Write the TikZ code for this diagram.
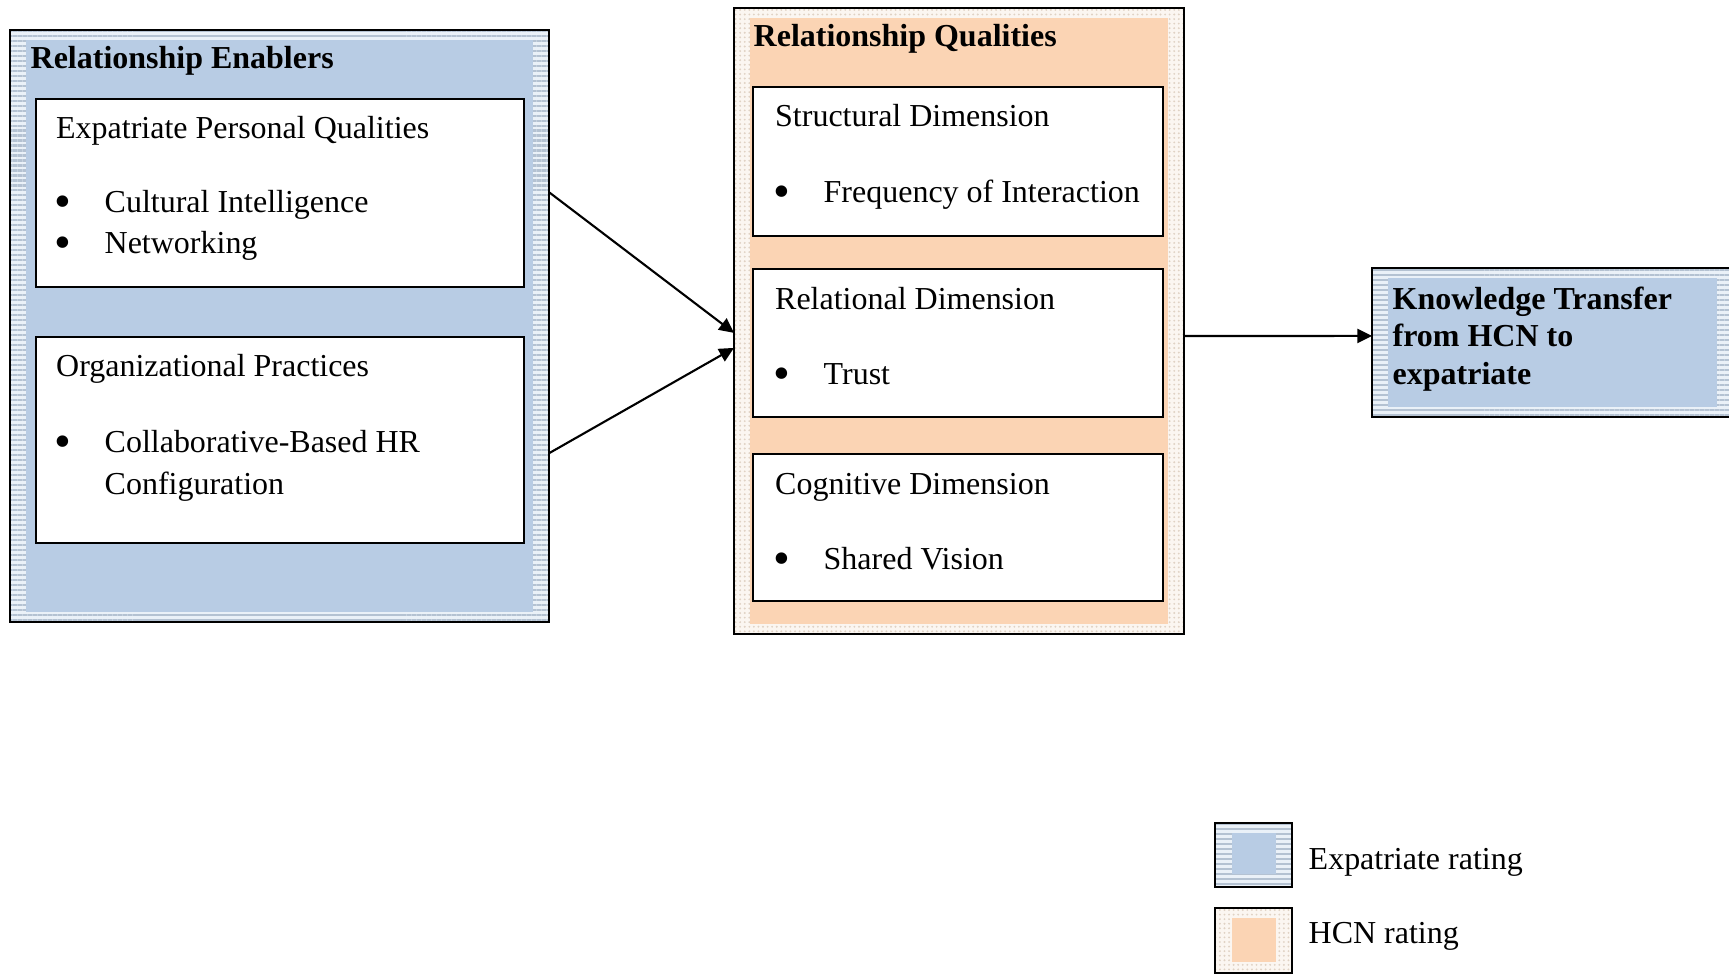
\documentclass[tikz,border=0pt]{standalone}
\usepackage{fontspec}
\setmainfont{Liberation Serif}
\usetikzlibrary{arrows.meta,patterns.meta,calc}

\definecolor{ratingblue}{HTML}{B8CCE4}
\definecolor{stripedark}{HTML}{B4C2D2}
\definecolor{stripelight}{HTML}{EAF1F8}
\definecolor{ratingorange}{HTML}{FBD4B4}
\definecolor{dotbg}{HTML}{FBF6F1}
\definecolor{dotfg}{HTML}{E0D2C4}

\newcommand{\bul}{\makebox[0.5cm][l]{\raisebox{-1.2pt}{\scalebox{1.5}{\textbullet}}}}

\tikzset{
	panel/.style={anchor=north west, inner sep=0, outer sep=0},
	expframe/.style={panel, draw=black, line width=0.75pt, preaction={fill=stripelight}, pattern={Lines[distance=1.42pt, line width=0.6pt]}, pattern color=stripedark},
	hcnframe/.style={panel, draw=black, line width=0.75pt, preaction={fill=dotbg}, pattern={Dots[distance=1.3pt, radius=0.3pt]}, pattern color=dotfg},
	expfill/.style={panel, fill=ratingblue},
	hcnfill/.style={panel, fill=ratingorange},
	whitebox/.style={panel, draw=black, fill=white, line width=0.6pt},
	txt/.style={anchor=base west, inner sep=0, font=\fontsize{9.1}{11}\selectfont},
	hd/.style={txt, font=\fontsize{9.1}{11}\selectfont\bfseries},
	link/.style={-{Triangle[length=4.2pt,width=4pt]}, line width=0.6pt}
}

\begin{document}
\begin{tikzpicture}
	\useasboundingbox (0,0) rectangle (17.29,-9.74);

	% relationship enablers
	\node[expframe, minimum width=5.39cm, minimum height=5.92cm] (enablers) at (0.10,-0.30) {};
	\node[expfill, minimum width=5.07cm, minimum height=5.72cm] (enablersin) at (0.26,-0.40) {};
	\node[hd] (enablerstitle) at (0.30,-0.69) {Relationship Enablers};
	\node[whitebox, minimum width=4.88cm, minimum height=1.88cm] (personal) at (0.36,-0.99) {};
	\node[txt] (personaltitle) at (0.555,-1.39) {Expatriate Personal Qualities};
	\node[txt] (cultural) at (0.54,-2.13) {\bul Cultural Intelligence};
	\node[txt] (networking) at (0.54,-2.54) {\bul Networking};
	\node[whitebox, minimum width=4.88cm, minimum height=2.06cm] (practices) at (0.36,-3.37) {};
	\node[txt] (practicestitle) at (0.555,-3.77) {Organizational Practices};
	\node[txt] (collab) at (0.54,-4.53) {\bul Collaborative-Based HR};
	\node[txt] (config) at (1.04,-4.95) {Configuration};

	% relationship qualities
	\node[hcnframe, minimum width=4.50cm, minimum height=6.26cm] (qualities) at (7.34,-0.08) {};
	\node[hcnfill, minimum width=4.18cm, minimum height=6.06cm] (qualitiesin) at (7.50,-0.18) {};
	\node[hd] (qualitiestitle) at (7.53,-0.47) {Relationship Qualities};
	\node[whitebox, minimum width=4.10cm, minimum height=1.49cm] (structural) at (7.53,-0.87) {};
	\node[txt] (structuraltitle) at (7.745,-1.27) {Structural Dimension};
	\node[txt] (frequency) at (7.73,-2.03) {\bul Frequency of Interaction};
	\node[whitebox, minimum width=4.10cm, minimum height=1.48cm] (relational) at (7.53,-2.69) {};
	\node[txt] (relationaltitle) at (7.745,-3.10) {Relational Dimension};
	\node[txt] (trust) at (7.73,-3.85) {\bul Trust};
	\node[whitebox, minimum width=4.10cm, minimum height=1.47cm] (cognitive) at (7.53,-4.54) {};
	\node[txt] (cognitivetitle) at (7.745,-4.95) {Cognitive Dimension};
	\node[txt] (vision) at (7.73,-5.70) {\bul Shared Vision};

	% knowledge transfer
	\node[expframe, minimum width=3.70cm, minimum height=1.49cm] (transfer) at (13.72,-2.68) {};
	\node[expfill, minimum width=3.29cm, minimum height=1.29cm] (transferin) at (13.88,-2.78) {};
	\node[hd] (transferone) at (13.92,-3.10) {Knowledge Transfer};
	\node[hd] (transfertwo) at (13.92,-3.47) {from HCN to};
	\node[hd] (transferthree) at (13.92,-3.85) {expatriate};

	% legend
	\node[expframe, minimum width=0.77cm, minimum height=0.64cm] (keyexp) at (12.15,-8.23) {};
	\node[expfill, minimum width=0.44cm, minimum height=0.41cm] (keyexpin) at (12.32,-8.33) {};
	\node[txt] (keyexptext) at (13.08,-8.70) {Expatriate rating};
	\node[hcnframe, minimum width=0.77cm, minimum height=0.65cm] (keyhcn) at (12.15,-9.08) {};
	\node[hcnfill, minimum width=0.44cm, minimum height=0.44cm] (keyhcnin) at (12.32,-9.18) {};
	\node[txt] (keyhcntext) at (13.08,-9.44) {HCN rating};

	\draw[link] ($(enablers.north east)!0.274!(enablers.south east)$) -- ($(qualities.north west)!0.519!(qualities.south west)$);
	\draw[link] ($(enablers.north east)!0.715!(enablers.south east)$) -- ($(qualities.north west)!0.543!(qualities.south west)$);
	\draw[link] ($(qualities.north east)!0.524!(qualities.south east)$) -- ($(transfer.north west)!0.456!(transfer.south west)$);
\end{tikzpicture}
\end{document}
